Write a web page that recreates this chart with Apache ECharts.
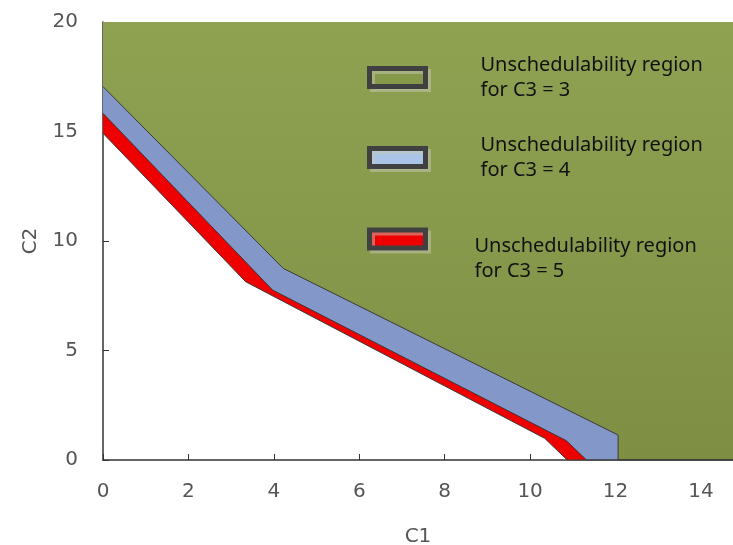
<!DOCTYPE html>
<html>
<head>
<meta charset="utf-8">
<script src="https://cdn.jsdelivr.net/npm/echarts@6/dist/echarts.min.js"></script>
<style>
  html, body { margin: 0; padding: 0; background: #fff; }
  #main { width: 733px; height: 545px; }
</style>
</head>
<body>
<div id="main"></div>
<script>
// boundaries of the unschedulability regions (C1, C2)
var xMax = 14.75;
var c3Names = ['C3 = 3', 'C3 = 4', 'C3 = 5'];

var greenX = [0, 4.22, 12.06, 12.06, xMax];
var greenY = [17.05, 8.75, 1.14, 0, 0];

var blueX = [0, 3.97, 10.85, 11.32, xMax];
var blueY = [15.83, 7.76, 0.88, 0, 0];

var redX = [0, 3.34, 10.34, 10.87, xMax];
var redY = [14.92, 8.14, 0.99, 0, 0];

function pairs(xs, ys) {
  var out = [];
  for (var i = 0; i < xs.length; i++) out.push([xs[i], ys[i]]);
  return out;
}

function region(name, xs, ys, fill) {
  return {
    name: name,
    type: 'line',
    data: pairs(xs, ys),
    showSymbol: false,
    silent: true,
    lineStyle: { color: '#3a3a3a', width: 1 },
    areaStyle: { origin: 'end', color: fill, opacity: 1 }
  };
}

// one legend box per entry, the boxes in the picture are not evenly placed
// drop: height of an empty first line that pushes the text below its icon
function legendBox(name, fill, top, padLeft, drop) {
  return {
    left: 362,
    top: top,
    itemWidth: 56,
    itemHeight: 18,
    selectedMode: false,
    formatter: function (n) {
      var t = '{t|Unschedulability region}\n{t|for ' + n + '}';
      return drop ? '{s| }\n' + t : t;
    },
    textStyle: {
      padding: [0, 0, 0, padLeft],
      rich: {
        t: { fontFamily: 'Noto Sans', fontSize: 20, lineHeight: 25, color: '#111' },
        s: { fontSize: 4, lineHeight: drop || 1 }
      }
    },
    data: [{
      name: name,
      icon: 'rect',
      itemStyle: {
        color: fill,
        borderColor: '#404040',
        borderWidth: 5,
        shadowColor: 'rgba(200,200,180,0.5)',
        shadowOffsetX: 3,
        shadowOffsetY: 3
      }
    }]
  };
}

var greenFill = new echarts.graphic.LinearGradient(0, 0, 0, 1, [
  { offset: 0, color: '#8fa252' },
  { offset: 1, color: '#7e8f44' }
]);

var chart = echarts.init(document.getElementById('main'));
var option = {
  animation: false,
  grid: { left: 103, right: 0, top: 22, bottom: 85, containLabel: false, outerBoundsMode: 'none' },
  legend: [
    legendBox(c3Names[0], '#86994a', 50, 50, 0),
    legendBox(c3Names[1], '#a9c4e6', 130, 50, 0),
    legendBox(c3Names[2], '#ee0000', 207, 44, 40)
  ],
  xAxis: {
    type: 'value',
    min: 0,
    max: xMax,
    interval: 2,
    name: 'C1',
    nameLocation: 'middle',
    nameGap: 67,
    nameTextStyle: { fontFamily: 'DejaVu Sans', fontSize: 20, color: '#555' },
    splitLine: { show: false },
    axisLine: { lineStyle: { color: '#333', width: 1.5 } },
    axisTick: { inside: true, length: 6, lineStyle: { color: '#333' } },
    axisLabel: {
      showMaxLabel: false,
      margin: 22,
      fontFamily: 'DejaVu Sans',
      fontSize: 20,
      color: '#555'
    }
  },
  yAxis: {
    type: 'value',
    min: 0,
    max: 20,
    interval: 5,
    name: 'C2',
    nameLocation: 'middle',
    nameGap: 62,
    nameTextStyle: { fontFamily: 'DejaVu Sans', fontSize: 20, color: '#555' },
    splitLine: { show: false },
    axisLine: { show: true, lineStyle: { color: '#333', width: 1.5 } },
    axisTick: { show: true, inside: true, length: 6, lineStyle: { color: '#333' } },
    axisLabel: {
      margin: 25,
      fontFamily: 'DejaVu Sans',
      fontSize: 20,
      color: '#555'
    }
  },
  series: [
    region(c3Names[2], redX, redY, '#ee0000'),
    region(c3Names[1], blueX, blueY, '#8497c9'),
    region(c3Names[0], greenX, greenY, greenFill)
  ]
};
chart.setOption(option);
</script>
</body>
</html>
